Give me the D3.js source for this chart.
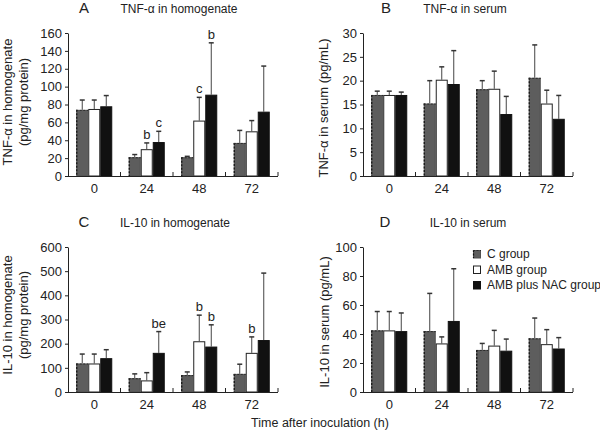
<!DOCTYPE html>
<html>
<head>
<meta charset="utf-8">
<script src="https://cdn.jsdelivr.net/npm/d3@7/dist/d3.min.js"></script>
<style>
  html, body { margin: 0; padding: 0; background: #fff; }
  svg { display: block; font-family: "Liberation Sans", Arial, sans-serif; }
</style>
</head>
<body>
<svg id="chart" width="600" height="433"></svg>
<script>
// ---------- data ----------
const times = ["0", "24", "48", "72"];
const groups = ["C group", "AMB group", "AMB plus NAC group"];

// Panel A: TNF-α in homogenate (pg/mg protein)
const tnfHomC   = [74, 21, 21, 37];
const tnfHomAMB = [75, 30, 62, 50];
const tnfHomNAC = [78, 38, 91, 72];
const tnfHomErrC   = [11, 3, 1, 14];
const tnfHomErrAMB = [10, 7, 26, 12];
const tnfHomErrNAC = [12, 12, 58, 51];
const tnfHomSigAMB = ["", "b", "c", ""];
const tnfHomSigNAC = ["", "c", "b", ""];
const tnfHomTicks = [0, 20, 40, 60, 80, 100, 120, 140, 160];

// Panel B: TNF-α in serum (pg/mL)
const tnfSerC   = [17, 15.2, 18.2, 20.6];
const tnfSerAMB = [17, 20.2, 18.3, 15.2];
const tnfSerNAC = [17, 19.3, 13, 12];
const tnfSerErrC   = [0.8, 4.8, 1.8, 6.9];
const tnfSerErrAMB = [0.8, 2.7, 3.7, 2.8];
const tnfSerErrNAC = [0.6, 7.0, 3.7, 4.9];
const tnfSerTicks = [0, 5, 10, 15, 20, 25, 30];

// Panel C: IL-10 in homogenate (pg/mg protein)
const ilHomC   = [118, 57, 70, 75];
const ilHomAMB = [118, 48, 210, 162];
const ilHomNAC = [140, 162, 188, 215];
const ilHomErrC   = [39, 18, 13, 40];
const ilHomErrAMB = [39, 32, 108, 66];
const ilHomErrNAC = [35, 88, 90, 277];
const ilHomSigAMB = ["", "", "b", "b"];
const ilHomSigNAC = ["", "be", "b", ""];
const ilHomTicks = [0, 100, 200, 300, 400, 500, 600];

// Panel D: IL-10 in serum (pg/mL)
const ilSerC   = [42.5, 42, 29, 37];
const ilSerAMB = [42.5, 33.5, 32, 33];
const ilSerNAC = [42, 49, 28.5, 30];
const ilSerErrC   = [13, 26, 4.5, 14];
const ilSerErrAMB = [13, 4.5, 10.5, 10];
const ilSerErrNAC = [12.5, 36, 8, 7.5];
const ilSerTicks = [0, 20, 40, 60, 80, 100];

// ---------- styling ----------
const fills = ["#5d5d5d", "#ffffff", "#111111"];
const strokes = ["#505050", "#222222", "#111111"];

const svg = d3.select("#chart");

function drawBar(g, bx, by, bw, bh, si) {
  g.append("rect").attr("x", bx + 0.5).attr("y", by + 0.5)
    .attr("width", bw - 1).attr("height", Math.max(0, bh - 0.5))
    .attr("fill", fills[si]).attr("stroke", strokes[si]).attr("stroke-width", 1);
  if (si === 0) {
    g.append("line").attr("x1", bx + 0.5).attr("x2", bx + 0.5)
      .attr("y1", by).attr("y2", by + bh)
      .attr("stroke", "#111").attr("stroke-width", 1.2).attr("stroke-dasharray", "2,1.5");
    g.append("line").attr("x1", bx).attr("x2", bx + bw)
      .attr("y1", by + 0.5).attr("y2", by + 0.5)
      .attr("stroke", "#2a2a2a").attr("stroke-width", 1).attr("stroke-dasharray", "2,1.5");
  }
}

function panel(cfg) {
  const g = svg.append("g");
  const x = d3.scaleBand().domain(times).range([cfg.x0, cfg.x1])
    .paddingInner(0.314).paddingOuter(0.157);
  const xs = d3.scaleBand().domain(groups).range([0, x.bandwidth()]);
  const y = d3.scaleLinear().domain([0, d3.max(cfg.ticks)]).range([cfg.yb, cfg.yt]);

  // y axis
  const ya = g.append("g").attr("transform", `translate(${cfg.x0},0)`)
    .call(d3.axisLeft(y).tickValues(cfg.ticks).tickSize(3).tickSizeOuter(0).tickPadding(3));
  ya.select(".domain").attr("stroke", "#222");
  ya.selectAll(".tick line").attr("stroke", "#222");
  ya.selectAll(".tick text").attr("font-size", 13).attr("fill", "#222")
    .attr("font-family", "Liberation Sans, Arial, sans-serif");

  const series = [cfg.c, cfg.amb, cfg.nac];
  const errs = [cfg.ec, cfg.eamb, cfg.enac];
  const sigs = [null, cfg.samb, cfg.snac];

  // error bars (drawn first so bars cover the base)
  series.forEach((vals, si) => {
    const grp = groups[si];
    vals.forEach((v, ti) => {
      const bx = x(times[ti]) + xs(grp);
      const bw = xs.bandwidth();
      const top = y(v + errs[si][ti]);
      const cx = bx + bw / 2;
      g.append("line").attr("x1", cx).attr("x2", cx)
        .attr("y1", y(v)).attr("y2", top)
        .attr("stroke", "#444").attr("stroke-width", 1);
      g.append("line").attr("x1", cx - 2.5).attr("x2", cx + 2.5)
        .attr("y1", top).attr("y2", top)
        .attr("stroke", "#333").attr("stroke-width", 1.5);
    });
  });
  // bars
  series.forEach((vals, si) => {
    const grp = groups[si];
    vals.forEach((v, ti) => {
      const bx = x(times[ti]) + xs(grp);
      drawBar(g, bx, y(v), xs.bandwidth(), y(0) - y(v), si);
    });
  });
  // significance letters
  sigs.forEach((s, si) => {
    if (!s) return;
    s.forEach((lab, ti) => {
      if (!lab) return;
      const v = series[si][ti] + errs[si][ti];
      g.append("text")
        .attr("x", x(times[ti]) + xs(groups[si]) + xs.bandwidth() / 2)
        .attr("y", y(v) - 4)
        .attr("text-anchor", "middle").attr("font-size", 13).attr("fill", "#222")
        .text(lab);
    });
  });

  // x axis
  g.append("line").attr("x1", cfg.x0).attr("x2", cfg.x1)
    .attr("y1", cfg.yb + 0.5).attr("y2", cfg.yb + 0.5).attr("stroke", "#222");
  times.forEach(t => {
    const bx = x(t) + x.bandwidth() + x.step() * x.paddingInner() / 2;
    g.append("line").attr("x1", bx).attr("x2", bx)
      .attr("y1", cfg.yb).attr("y2", cfg.yb - 4).attr("stroke", "#222");
    g.append("text").attr("x", x(t) + x.bandwidth() / 2).attr("y", cfg.yb + 17)
      .attr("text-anchor", "middle").attr("font-size", 13).attr("fill", "#222").text(t);
  });

  // panel letter & title
  g.append("text").attr("x", cfg.letterX).attr("y", cfg.yt - 20)
    .attr("text-anchor", "middle").attr("font-size", 15).attr("fill", "#222").text(cfg.letter);
  g.append("text").attr("x", cfg.titleX).attr("y", cfg.yt - 20)
    .attr("text-anchor", "middle").attr("font-size", 12).attr("fill", "#222").text(cfg.title);

  // y title
  cfg.ylab.forEach((line, li) => {
    g.append("text")
      .attr("transform", `translate(${cfg.ylabX[li]},${cfg.ylabY}) rotate(-90)`)
      .attr("text-anchor", "middle").attr("dominant-baseline", "central")
      .attr("font-size", 13).attr("fill", "#222").text(line);
  });
}

panel({ x0: 68, x1: 278, yt: 33, yb: 176, ticks: tnfHomTicks,
  c: tnfHomC, amb: tnfHomAMB, nac: tnfHomNAC,
  ec: tnfHomErrC, eamb: tnfHomErrAMB, enac: tnfHomErrNAC,
  samb: tnfHomSigAMB, snac: tnfHomSigNAC,
  letter: "A", letterX: 84, title: "TNF-α in homogenate", titleX: 179,
  ylab: ["TNF-α in homogenate", "(pg/mg protein)"], ylabX: [7, 23], ylabY: 102 });

panel({ x0: 363, x1: 573, yt: 33, yb: 176, ticks: tnfSerTicks,
  c: tnfSerC, amb: tnfSerAMB, nac: tnfSerNAC,
  ec: tnfSerErrC, eamb: tnfSerErrAMB, enac: tnfSerErrNAC,
  letter: "B", letterX: 386, title: "TNF-α in serum", titleX: 465,
  ylab: ["TNF-α in serum (pg/mL)"], ylabX: [323], ylabY: 108 });

panel({ x0: 68, x1: 278, yt: 247, yb: 392, ticks: ilHomTicks,
  c: ilHomC, amb: ilHomAMB, nac: ilHomNAC,
  ec: ilHomErrC, eamb: ilHomErrAMB, enac: ilHomErrNAC,
  samb: ilHomSigAMB, snac: ilHomSigNAC,
  letter: "C", letterX: 84, title: "IL-10 in homogenate", titleX: 175,
  ylab: ["IL-10 in homogenate", "(pg/mg protein)"], ylabX: [7, 23], ylabY: 315 });

panel({ x0: 363, x1: 573, yt: 247, yb: 392, ticks: ilSerTicks,
  c: ilSerC, amb: ilSerAMB, nac: ilSerNAC,
  ec: ilSerErrC, eamb: ilSerErrAMB, enac: ilSerErrNAC,
  letter: "D", letterX: 385, title: "IL-10 in serum", titleX: 468,
  ylab: ["IL-10 in serum (pg/mL)"], ylabX: [324], ylabY: 322 });

// legend
const leg = svg.append("g").attr("transform", "translate(473,250)");
groups.forEach((gname, i) => {
  drawBar(leg, 0, i * 15.5, 8, 8, i);
  leg.append("text").attr("x", 14).attr("y", i * 15.5 + 8).attr("font-size", 12)
    .attr("fill", "#222").text(gname);
});

// shared x title
svg.append("text").attr("x", 320).attr("y", 427).attr("text-anchor", "middle")
  .attr("font-size", 12.5).attr("fill", "#222").text("Time after inoculation (h)");
</script>
</body>
</html>
